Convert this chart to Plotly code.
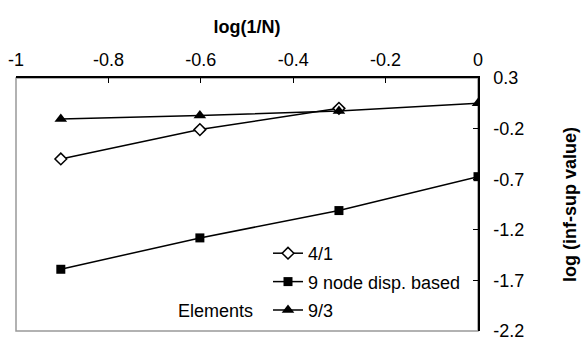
import plotly.graph_objects as go

# Data
x_vals = [-0.903, -0.602, -0.301, 0.0]
y_41 = [-0.50, -0.21, 0.00]
y_9node = [-1.59, -1.28, -1.01, -0.675]
y_93 = [-0.105, -0.07, -0.026, 0.05]

x_tickvals = [-1, -0.8, -0.6, -0.4, -0.2, 0]
x_ticktext = ["-1", "-0.8", "-0.6", "-0.4", "-0.2", "0"]
y_tickvals = [0.3, -0.2, -0.7, -1.2, -1.7, -2.2]
y_ticktext = ["0.3", "-0.2", "-0.7", "-1.2", "-1.7", "-2.2"]

FONT = "Liberation Sans, Arial, sans-serif"

fig = go.Figure()
fig.add_trace(go.Scatter(
    x=x_vals[:3], y=y_41, name="4/1", mode="lines+markers", legendgroup="a",
    line=dict(color="black", width=1.5),
    marker=dict(symbol="diamond", size=9, color="white", line=dict(color="black", width=1.5)),
))
fig.add_trace(go.Scatter(
    x=x_vals, y=y_9node, name="9 node disp. based", mode="lines+markers", legendgroup="b",
    line=dict(color="black", width=1.5),
    marker=dict(symbol="square", size=9, color="black"),
))
fig.add_trace(go.Scatter(
    x=x_vals, y=y_93, name="9/3", mode="lines+markers", legendgroup="c",
    line=dict(color="black", width=1.5),
    marker=dict(symbol="triangle-up", size=11, color="black"),
))

# gray frame (left & bottom visible)
fig.add_shape(type="rect", xref="x domain", yref="y domain", x0=0, x1=1, y0=0, y1=1,
              line=dict(color="#999999", width=1.5), layer="below")

fig.add_annotation(text="Elements", xref="paper", yref="paper", x=(255 - 16) / 462,
                   y=(331 - 311) / 253, xanchor="right", yanchor="middle", showarrow=False,
                   font=dict(family=FONT, size=18, color="black"))

fig.update_layout(
    width=588, height=342,
    margin=dict(l=16, r=110, t=78, b=11, autoexpand=False),
    paper_bgcolor="white", plot_bgcolor="white",
    font=dict(family=FONT, size=18, color="black"),
    showlegend=True,
    legend=dict(x=(268 - 16) / 462, y=(331 - 235) / 253, xanchor="left", yanchor="top",
                bgcolor="rgba(0,0,0,0)", tracegroupgap=2, font=dict(size=18)),
    xaxis=dict(
        side="top", range=[-1, 0], tickvals=x_tickvals, ticktext=x_ticktext, automargin=False,
        showgrid=False, zeroline=False, showline=True, linecolor="black", linewidth=1.5,
        ticks="inside", ticklen=5, tickcolor="black", ticklabelstandoff=3,
        title=dict(text="<b>log(1/N)</b>", font=dict(size=18), standoff=12),
    ),
    yaxis=dict(
        side="right", range=[-2.2, 0.3], tickvals=y_tickvals, ticktext=y_ticktext, automargin=False,
        showgrid=False, zeroline=False, showline=True, linecolor="black", linewidth=1.5,
        ticks="inside", ticklen=5, tickcolor="black", ticklabelstandoff=10,
        title=dict(text="<b>log (inf-sup value)</b>", font=dict(size=18), standoff=40),
    ),
)

fig.write_html("out.html", config={"displayModeBar": False},
               post_script="document.body.style.margin='0px';")
